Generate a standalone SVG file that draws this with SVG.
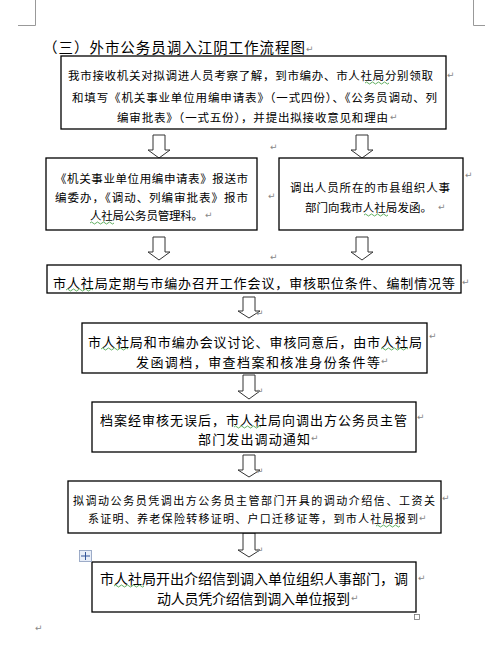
<svg xmlns="http://www.w3.org/2000/svg" width="485" height="646" viewBox="0 0 485 646">
<style>
.box{fill:#fff;stroke:#000;stroke-width:1.3}
.t{font-family:"Noto Sans CJK SC","Liberation Sans",sans-serif;fill:#000;dominant-baseline:central}
.arr{fill:#fff;stroke:#333;stroke-width:1}
.pm{font-family:"DejaVu Sans",sans-serif;font-size:9px;fill:#888;dominant-baseline:central}
.crop{fill:none;stroke:#999;stroke-width:1}
.sq{fill:none;stroke:#3a9a3a;stroke-width:0.8}
</style>
<rect width="485" height="646" fill="#fff"/>
<path class="crop" d="M35.5,0 V25.5 H18 M473.5,0 V25.5 H485"/>
<text class="t" x="43" y="46.5" font-size="14.5" textLength="262" lengthAdjust="spacing">（三）外市公务员调入江阴工作流程图</text>
<text class="pm" x="306" y="49">↵</text>

<g id="connectors">
<polygon class="arr" points="153,135 165,135 165,150 170,150 159,158 148,150 153,150"/>
<polygon class="arr" points="356,135 368,135 368,150 373,150 362,158 351,150 356,150"/>
<polygon class="arr" points="153,237 165,237 165,252 170,252 159,260 148,252 153,252"/>
<polygon class="arr" points="356,237 368,237 368,252 373,252 362,260 351,252 356,252"/>
<polygon class="arr" points="243,297 255,297 255,311 260,311 249,318 238,311 243,311"/>
<polygon class="arr" points="243,375 255,375 255,391 260,391 249,399 238,391 243,391"/>
<polygon class="arr" points="243,455 255,455 255,470 260,470 249,477 238,470 243,470"/>
<polygon class="arr" points="243,533 255,533 255,550 260,550 249,557 238,550 243,550"/>
</g>

<g id="n1">
<rect class="box" x="61" y="56" width="385" height="73"/>
<text class="t" x="68" y="75" font-size="11.5" textLength="365" lengthAdjust="spacing">我市接收机关对拟调进人员考察了解，到市编办、市人社局分别领取</text>
<text class="t" x="72" y="97" font-size="11.5" textLength="365" lengthAdjust="spacing">和填写《机关事业单位用编申请表》（一式四份）、《公务员调动、列</text>
<text class="t" x="117" y="117" font-size="11.5" textLength="271" lengthAdjust="spacing">编审批表》（一式五份），并提出拟接收意见和理由</text>
</g>

<g id="n2">
<rect class="box" x="46" y="158" width="211" height="72"/>
<text class="t" x="55" y="178" font-size="11.5" textLength="193" lengthAdjust="spacing">《机关事业单位用编申请表》报送市</text>
<text class="t" x="55" y="197" font-size="11.5" textLength="193" lengthAdjust="spacing">编委办，《调动、列编审批表》报市</text>
<text class="t" x="90" y="215" font-size="11.5" textLength="113" lengthAdjust="spacing">人社局公务员管理科。</text>
</g>

<g id="n3">
<rect class="box" x="279" y="158" width="184" height="72"/>
<text class="t" x="290" y="187" font-size="11.5" textLength="160" lengthAdjust="spacing">调出人员所在的市县组织人事</text>
<text class="t" x="305" y="207" font-size="11.5" textLength="127" lengthAdjust="spacing">部门向我市人社局发函。</text>
</g>

<g id="n4">
<rect class="box" x="47" y="265" width="414" height="28"/>
<text class="t" x="53" y="282" font-size="13" textLength="402" lengthAdjust="spacing">市人社局定期与市编办召开工作会议，审核职位条件、编制情况等</text>
</g>

<g id="n5">
<rect class="box" x="82" y="323" width="345" height="50"/>
<text class="t" x="88" y="341" font-size="13" textLength="334" lengthAdjust="spacing">市人社局和市编办会议讨论、审核同意后，由市人社局</text>
<text class="t" x="136" y="361" font-size="13" textLength="244" lengthAdjust="spacing">发函调档，审查档案和核准身份条件等</text>
</g>

<g id="n6">
<rect class="box" x="92" y="402" width="324" height="50"/>
<text class="t" x="100" y="419" font-size="13" textLength="307" lengthAdjust="spacing">档案经审核无误后，市人社局向调出方公务员主管</text>
<text class="t" x="198" y="438" font-size="13" textLength="112" lengthAdjust="spacing">部门发出调动通知</text>
</g>

<g id="n7">
<rect class="box" x="68" y="481" width="373" height="52"/>
<text class="t" x="73" y="500" font-size="11" textLength="362" lengthAdjust="spacing">拟调动公务员凭调出方公务员主管部门开具的调动介绍信、工资关</text>
<text class="t" x="88" y="518" font-size="11" textLength="330" lengthAdjust="spacing">系证明、养老保险转移证明、户口迁移证等，到市人社局报到</text>
</g>

<g id="n8">
<rect class="box" x="92" y="562" width="324" height="50"/>
<text class="t" x="100" y="578" font-size="14" textLength="308" lengthAdjust="spacing">市人社局开出介绍信到调入单位组织人事部门，调</text>
<text class="t" x="157" y="598" font-size="14" textLength="193" lengthAdjust="spacing">动人员凭介绍信到调入单位报到</text>
</g>

<g id="marks">
<rect x="79.5" y="550.5" width="12" height="11" fill="#e8eef8" stroke="#8899bb" stroke-width="0.8"/>
<path d="M85.5,552 V560 M81,556 H90" stroke="#335599" stroke-width="1"/>
<rect x="414.5" y="614.5" width="5" height="5" fill="#fff" stroke="#777" stroke-width="0.8"/>
<text class="pm" x="447" y="75">↵</text>
<text class="pm" x="390" y="117">↵</text>
<text class="pm" x="270" y="147">↵</text>
<text class="pm" x="465" y="175">↵</text>
<text class="pm" x="268" y="196">↵</text>
<text class="pm" x="438" y="207">↵</text>
<text class="pm" x="205" y="215">↵</text>
<text class="pm" x="270" y="257">↵</text>
<text class="pm" x="462" y="282">↵</text>
<text class="pm" x="256" y="313">↵</text>
<text class="pm" x="429" y="336">↵</text>
<text class="pm" x="381" y="361">↵</text>
<text class="pm" x="256" y="391">↵</text>
<text class="pm" x="417" y="417">↵</text>
<text class="pm" x="311" y="438">↵</text>
<text class="pm" x="256" y="471">↵</text>
<text class="pm" x="442" y="498">↵</text>
<text class="pm" x="419" y="518">↵</text>
<text class="pm" x="256" y="550">↵</text>
<text class="pm" x="418" y="578">↵</text>
<text class="pm" x="351" y="598">↵</text>
<text class="pm" x="35" y="628">↵</text>
<path class="sq" d="M365,83 q1.5,-2 3,0 t3,0 t3,0 t3,0 t3,0 t3,0 t3,0 t3,0"/>
<path class="sq" d="M90,223 q1.5,-2 3,0 t3,0 t3,0 t3,0 t3,0 t3,0 t3,0 t3,0"/>
<path class="sq" d="M364,215 q1.5,-2 3,0 t3,0 t3,0 t3,0 t3,0 t3,0 t3,0 t3,0"/>
<path class="sq" d="M66,290 q1.5,-2 3,0 t3,0 t3,0 t3,0 t3,0 t3,0 t3,0 t3,0 t3,0"/>
<path class="sq" d="M101,349 q1.5,-2 3,0 t3,0 t3,0 t3,0 t3,0 t3,0 t3,0 t3,0 t3,0"/>
<path class="sq" d="M381,349 q1.5,-2 3,0 t3,0 t3,0 t3,0 t3,0 t3,0 t3,0 t3,0 t3,0"/>
<path class="sq" d="M234,427 q1.5,-2 3,0 t3,0 t3,0 t3,0 t3,0 t3,0 t3,0 t3,0 t3,0"/>
<path class="sq" d="M376,526 q1.5,-2 3,0 t3,0 t3,0 t3,0 t3,0 t3,0 t3,0 t3,0"/>
<path class="sq" d="M114,586 q1.5,-2 3,0 t3,0 t3,0 t3,0 t3,0 t3,0 t3,0 t3,0 t3,0 t3,0"/>
</g>
</svg>
